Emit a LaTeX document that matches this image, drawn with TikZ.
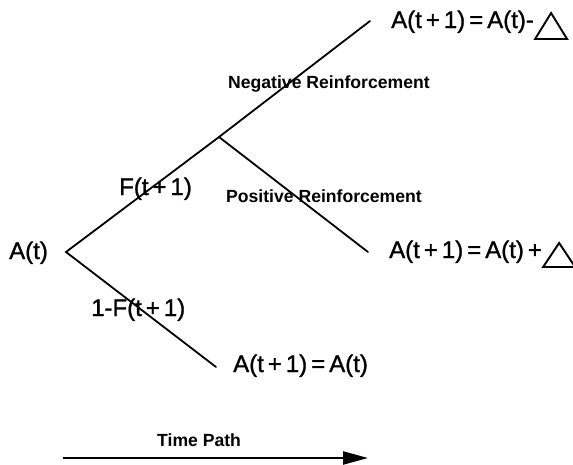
\documentclass[tikz,border=0pt]{standalone}
\usepackage{fontspec}
\setmainfont{Liberation Sans}
\newfontfamily\heavyfont[FakeBold=1.2]{Liberation Sans}
\usetikzlibrary{arrows.meta}
\newcommand{\opr}[1]{\hspace{4pt}#1\hspace{4pt}}
\tikzset{
  biglab/.style={inner sep=0pt, anchor=base west, font=\heavyfont\fontsize{24}{28}\selectfont},
  smalllab/.style={inner sep=0pt, anchor=base west, font=\bfseries\fontsize{17.6}{21}\selectfont},
  branch/.style={line width=1.8pt, line cap=round},
  tri/.style={line width=1.9pt, line join=miter}
}
\begin{document}
\begin{tikzpicture}[x=1pt,y=-1pt]
\useasboundingbox (0,0) rectangle (573,464);
% labels
\node[biglab] (at) at (9,259) {A(t)};
\node[biglab] (top) at (391,28) {A(t\opr{+}1)\opr{=}A(t)-};
\node[biglab] (mid) at (389,258) {A(t\opr{+}1)\opr{=}A(t)\opr{+}};
\node[biglab] (low) at (233,372) {A(t\opr{+}1)\opr{=}A(t)};
\node[biglab] (f) at (119,195) {F(t\opr{+}1)};
\node[biglab] (nf) at (91,316) {1-F(t\opr{+}1)};
\node[smalllab] (neg) at (228,88) {Negative Reinforcement};
\node[smalllab] (pos) at (226,202) {Positive Reinforcement};
\node[smalllab] (tp) at (157,446) {Time Path};
% tree
\coordinate (v) at (66,252);
\coordinate (b) at (219,137);
\coordinate (e1) at (370,21);
\coordinate (e2) at (368,252);
\coordinate (e3) at (216,367);
\draw[branch] (e1) -- (b) -- (v) -- (e3);
\draw[branch] (b) -- (e2);
% triangles
\draw[tri] (top.base east) ++(1,11) -- ++(32,0) -- ++(-16,-26) -- cycle;
\draw[tri] (mid.base east) ++(1,9) -- ++(32,0) -- ++(-16,-24) -- cycle;
% time arrow
\coordinate (ts) at (63,458);
\coordinate (te) at (368,458);
\draw[line width=2.3pt, -{Triangle[length=25pt,width=13pt]}] (ts) -- (te);
\end{tikzpicture}
\end{document}
